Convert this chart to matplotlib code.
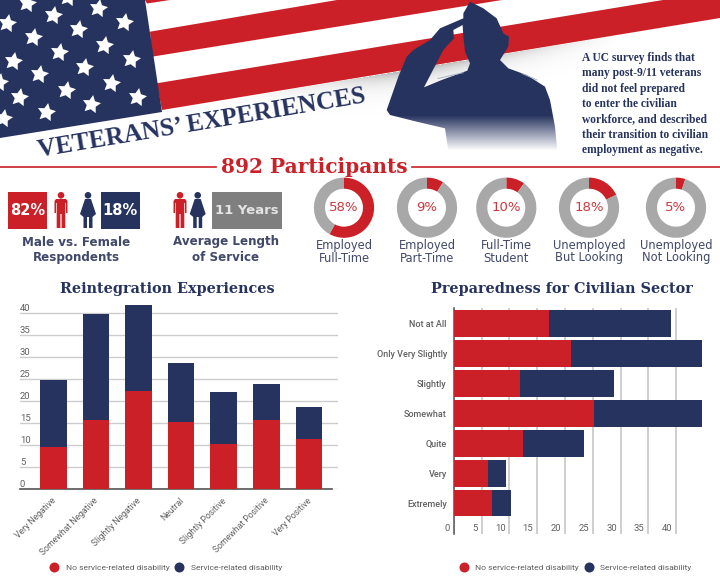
import numpy as np
import matplotlib
matplotlib.use("Agg")
import matplotlib.pyplot as plt
from matplotlib.patches import Polygon, Circle, Rectangle, PathPatch
from matplotlib.path import Path
from matplotlib.lines import Line2D
from matplotlib.transforms import ScaledTranslation

# ---------- data ----------
reint_cats = ["Very Negative", "Somewhat Negative", "Slightly Negative", "Neutral",
              "Slightly Positive", "Somewhat Positive", "Very Positive"]
reint_none = [9.7, 15.8, 22.4, 15.3, 10.4, 15.8, 11.4]
reint_serv = [15.2, 24.0, 19.5, 13.3, 11.7, 8.1, 7.4]

prep_cats = ["Not at All", "Only Very Slightly", "Slightly", "Somewhat", "Quite", "Very", "Extremely"]
prep_none = [17.15, 21.05, 11.9, 25.3, 12.5, 6.2, 6.8]
prep_serv = [21.85, 23.55, 17.0, 19.4, 11.0, 3.2, 3.5]

donut_values = [58, 9, 10, 18, 5]
donut_labels = ["Employed\nFull-Time", "Employed\nPart-Time", "Full-Time\nStudent",
                "Unemployed\nBut Looking", "Unemployed\nNot Looking"]
donut_centers = [344, 427, 506.3, 589, 676]

legend_none = "No service-related disability"
legend_serv = "Service-related disability"

RED = "#cb2027"
NAVY = "#27335f"
GRAY = "#a8a8a8"
LABEL = "#41486a"
TICK = "#606060"
W, H = 720, 579

fig = plt.figure(figsize=(7.2, 5.79), dpi=100, facecolor="white")


def px_axes(l, t, r, b, **kw):
    a = fig.add_axes([l / W, 1 - b / H, (r - l) / W, (b - t) / H], **kw)
    a.patch.set_alpha(0)
    return a


bg = fig.add_axes([0, 0, 1, 1])
bg.set_xlim(0, W)
bg.set_ylim(H, 0)
bg.axis("off")

# ---------- flag ----------
bg.add_patch(Polygon([(145, 0), (170, 0), (147, 3.5)], fc=RED, ec="none", zorder=1))
bg.add_patch(Polygon([(150, 31.7), (337, 0), (502, 0), (152, 56.7)], fc=RED, ec="none", zorder=1))
bg.add_patch(Polygon([(156.7, 83.3), (663, 0), (720, 0), (720, 18), (162, 110)], fc=RED, ec="none", zorder=1))

yy, xx = np.mgrid[0:180, 0:720]
edge = 110 - 0.165 * (xx - 162)
d = yy - edge
shade = np.where(d > 0, np.exp(-np.clip(d, 0, None) / 9.0), 0.0)
shade *= np.interp(xx, [230, 330, 400, 470, 620], [0.0, 0.15, 0.45, 0.35, 0.0])
rgba = np.zeros((180, 720, 4))
rgba[..., :3] = 0.35
rgba[..., 3] = shade
bg.imshow(rgba, extent=(0, 720, 180, 0), aspect="auto", zorder=1.5, interpolation="bilinear")

bg.add_patch(Polygon([(0, 0), (145, 0), (162, 112), (0, 138)], fc=NAVY, ec="none", zorder=2))
star_xy = np.array([(80, 10), (160, 45), (295, 25), (372, 65), (20, 68), (233, 87), (98, 110),
                    (312, 135), (178, 157), (393, 178), (40, 182), (252, 200), (117, 222),
                    (332, 248), (198, 270), (411, 290), (58, 292), (272, 312), (137, 335),
                    (10, 355), (-2, 245), (205, -8)]) / 3.0
bg.scatter(star_xy[:, 0], star_xy[:, 1], marker=(5, 1, -10), s=190, c="white", linewidths=0, zorder=3)

# ---------- soldier ----------
outer = [(270, 5), (250, 40), (250, 55), (180, 85), (150, 120), (100, 150), (80, 170), (55, 230),
         (20, 330), (30, 345), (110, 365), (195, 385), (205, 452), (532, 452), (525, 380),
         (510, 300), (495, 260), (440, 225), (385, 205), (360, 180), (385, 140), (387, 110),
         (370, 100), (350, 55), (310, 25), (270, 5)]
hole = [(248, 75), (250, 110), (255, 155), (270, 190), (262, 212), (185, 240), (132, 262),
        (190, 150), (222, 115), (220, 90), (248, 75)]
to_px = lambda pts: [(380 + x / 3.0, y / 3.0) for x, y in pts]
verts = to_px(outer) + to_px(hole)
codes = [Path.MOVETO] + [Path.LINETO] * (len(outer) - 1) + [Path.MOVETO] + [Path.LINETO] * (len(hole) - 1)
clip = PathPatch(Path(verts, codes), fc="none", ec="none", transform=bg.transData)
bg.add_patch(clip)
grad = np.zeros((152, 2, 4))
grad[..., 0], grad[..., 1], grad[..., 2] = 0x27 / 255, 0x33 / 255, 0x5f / 255
grad[:, :, 3] = np.interp(np.arange(152), [0, 115, 150], [1, 1, 0])[:, None]
im = bg.imshow(grad, extent=(380, 570, 152, 0), aspect="auto", zorder=4)
im.set_clip_path(clip)
bg.plot([438, 463], [78.5, 72.7], color="#aab0c4", lw=0.7, zorder=5)
bg.plot([522, 537], [73.5, 80], color="#aab0c4", lw=0.7, zorder=5)
bg.set_xlim(0, W)
bg.set_ylim(H, 0)

bg.text(202, 123, "VETERANS’ EXPERIENCES", family="Liberation Serif", weight="bold", fontsize=18.3,
        color=NAVY, rotation=9.5, rotation_mode="anchor", ha="center", va="center", zorder=6)
bg.text(582.3, 104, "A UC survey finds that\nmany post-9/11 veterans\ndid not feel prepared\nto enter the civilian\n"
        "workforce, and described\ntheir transition to civilian\nemployment as negative.",
        family="Liberation Serif", weight="bold", fontsize=8.3, color=NAVY, va="center", ha="left",
        linespacing=1.38, zorder=6)

# ---------- participants ----------
bg.plot([0, 216], [167, 167], color=RED, lw=1.2)
bg.plot([412, 720], [167, 167], color=RED, lw=1.2)
bg.text(314, 167, "892 Participants", family="DejaVu Serif", weight="bold", fontsize=14.5,
        color=RED, ha="center", va="center")


def person(cx, top, color, female=False):
    if female:
        pts = [(-3, 7), (3, 7), (8, 22), (4.5, 25), (4.5, 36), (1, 36), (1, 25), (-1, 25), (-1, 36),
               (-4.5, 36), (-4.5, 25), (-8, 22)]
    else:
        pts = [(-5, 7), (5, 7), (6.5, 9), (6.5, 21), (5, 21), (5, 11), (4.3, 11), (4.3, 36), (0.6, 36),
               (0.6, 22), (-0.6, 22), (-0.6, 36), (-4.3, 36), (-4.3, 11), (-5, 11), (-5, 21),
               (-6.5, 21), (-6.5, 9)]
    bg.add_patch(Polygon([(cx + x, top + y) for x, y in pts], fc=color, ec="none"))
    bg.add_patch(Circle((cx, top + 3.3), 3.3, fc=color, ec="none"))


for x0, x1, c, s in [(8, 47.3, RED, "82%"), (100.7, 140, NAVY, "18%"), (212, 282, "#7f7f7f", "11 Years")]:
    bg.add_patch(Rectangle((x0, 192.3), x1 - x0, 36.7, fc=c, ec="none"))
    bg.text((x0 + x1) / 2, 210.5, s, color="white" if c != "#7f7f7f" else "#e4e4e4", family="DejaVu Sans",
            weight="bold", fontsize=10.5 if c != "#7f7f7f" else 9.5,
            ha="center", va="center")
person(61, 192, RED)
person(88, 192, NAVY, True)
person(180, 192, RED)
person(197.7, 192, NAVY, True)

for cx, s in [(76, "Male vs. Female\nRespondents"), (226, "Average Length\nof Service")]:
    for i, line in enumerate(s.split("\n")):
        bg.text(cx, 242 + 15.3 * i, line, family="DejaVu Sans", weight="bold", fontsize=8.6, color=LABEL,
                ha="center", va="center")

# ---------- donuts ----------
for cx, v, lab in zip(donut_centers, donut_values, donut_labels):
    a = px_axes(cx - 31, 207.7 - 31, cx + 31, 207.7 + 31)
    a.pie([v, 100 - v], startangle=90, counterclock=False, colors=[RED, GRAY], radius=1.0,
          wedgeprops=dict(width=0.37, linewidth=0))
    a.set_xlim(-1.03, 1.03)
    a.set_ylim(-1.03, 1.03)
    a.text(0, 0, f"{v}%", color=RED, fontsize=9.5, family="DejaVu Sans", ha="center", va="center", alpha=.9)
    for i, line in enumerate(lab.split("\n")):
        bg.text(cx, 245.3 + 12.7 * i, line, family="DejaVu Sans", fontsize=8.3, color=LABEL,
                ha="center", va="center")

# ---------- reintegration ----------
titlekw = dict(family="DejaVu Serif", weight="bold", fontsize=10.4, color=NAVY, ha="center", va="center")
bg.text(167.5, 289, "Reintegration Experiences", **titlekw)
bg.text(561.7, 289, "Preparedness for Civilian Sector", **titlekw)

x0_px, step_px = 53.3, 42.6
ax = px_axes(20, 300, 338, 489.3)
x = np.arange(len(reint_cats))
b1 = ax.bar(x, reint_none, width=26.7 / step_px, color=RED, zorder=3, label=legend_none)
b2 = ax.bar(x, reint_serv, width=26.7 / step_px, bottom=reint_none, color=NAVY, zorder=3, label=legend_serv)
ax.set_xlim((20 - x0_px) / step_px, (338 - x0_px) / step_px)
ax.set_ylim(0, (489.3 - 300) / 4.4)
ax.set_yticks(range(0, 41, 5))
ax.grid(axis="y", color="#cccccc", lw=1.0, zorder=0)
ax.set_axisbelow(True)
for s in ["top", "left", "right"]:
    ax.spines[s].set_visible(False)
ax.spines["bottom"].set_color("#555555")
ax.spines["bottom"].set_linewidth(1.2)
ax.spines["bottom"].set_bounds((20 - x0_px) / step_px, (332 - x0_px) / step_px)
ax.tick_params(axis="both", length=0)
ax.tick_params(axis="y", pad=0, labelsize=6.8, labelcolor=TICK)
plt.setp(ax.get_yticklabels(), ha="left", va="bottom", family="Roboto")
for t in ax.get_yticklabels():
    t.set_transform(t.get_transform() + ScaledTranslation(0, 0.4 / 72, fig.dpi_scale_trans))
ax.set_xticks(x)
ax.set_xticklabels(reint_cats, rotation=45, ha="right", rotation_mode="anchor", family="Roboto",
                   fontsize=6.2, color=TICK)
ax.tick_params(axis="x", pad=5)
for t in ax.get_xticklabels():
    t.set_transform(t.get_transform() + ScaledTranslation(-1.5 / 72, 0, fig.dpi_scale_trans))


def circ(c):
    return Line2D([], [], marker="o", ls="none", mfc=c, mec="none", ms=7.2)


legkw = dict(ncol=2, frameon=False, prop=dict(family="Roboto", size=6.1), labelcolor=TICK, loc="center",
             handletextpad=0.85, columnspacing=0.7, borderpad=0, borderaxespad=0, handlelength=1.0)
fig.legend([circ(RED), circ(NAVY)], [legend_none, legend_serv], bbox_to_anchor=(166 / W, 1 - 567.7 / H), **legkw)

# ---------- preparedness ----------
ax2 = px_axes(453.7, 308, 453.7 + 46 * 5.56, 534)
y = np.arange(len(prep_cats))
ax2.barh(y, prep_none, height=26.7 / 29.9, color=RED, zorder=3, label=legend_none)
ax2.barh(y, prep_serv, height=26.7 / 29.9, left=prep_none, color=NAVY, zorder=3, label=legend_serv)
ax2.set_xlim(0, 46)
ax2.set_ylim((534 - 323.7) / 29.9, (308 - 323.7) / 29.9)
ax2.set_xticks(range(0, 41, 5))
ax2.set_yticks(y)
ax2.set_yticklabels(prep_cats, family="Roboto", weight="medium", fontsize=6.5, color=TICK)
ax2.grid(axis="x", color="#cccccc", lw=1.3, zorder=0)
ax2.set_axisbelow(True)
for s in ["top", "bottom", "right"]:
    ax2.spines[s].set_visible(False)
ax2.spines["left"].set_color("#555555")
ax2.spines["left"].set_linewidth(1.1)
ax2.tick_params(axis="both", length=0)
ax2.tick_params(axis="y", pad=5)
ax2.tick_params(axis="x", pad=-7.5, labelsize=6.8, labelcolor=TICK)
plt.setp(ax2.get_xticklabels(), ha="right", family="Roboto")
for t in ax2.get_xticklabels():
    t.set_transform(t.get_transform() + ScaledTranslation(-2.7 / 72, 0, fig.dpi_scale_trans))
fig.legend([circ(RED), circ(NAVY)], [legend_none, legend_serv], bbox_to_anchor=(575.5 / W, 1 - 567.7 / H), **legkw)

fig.savefig("out.png", dpi=100, facecolor="white")
